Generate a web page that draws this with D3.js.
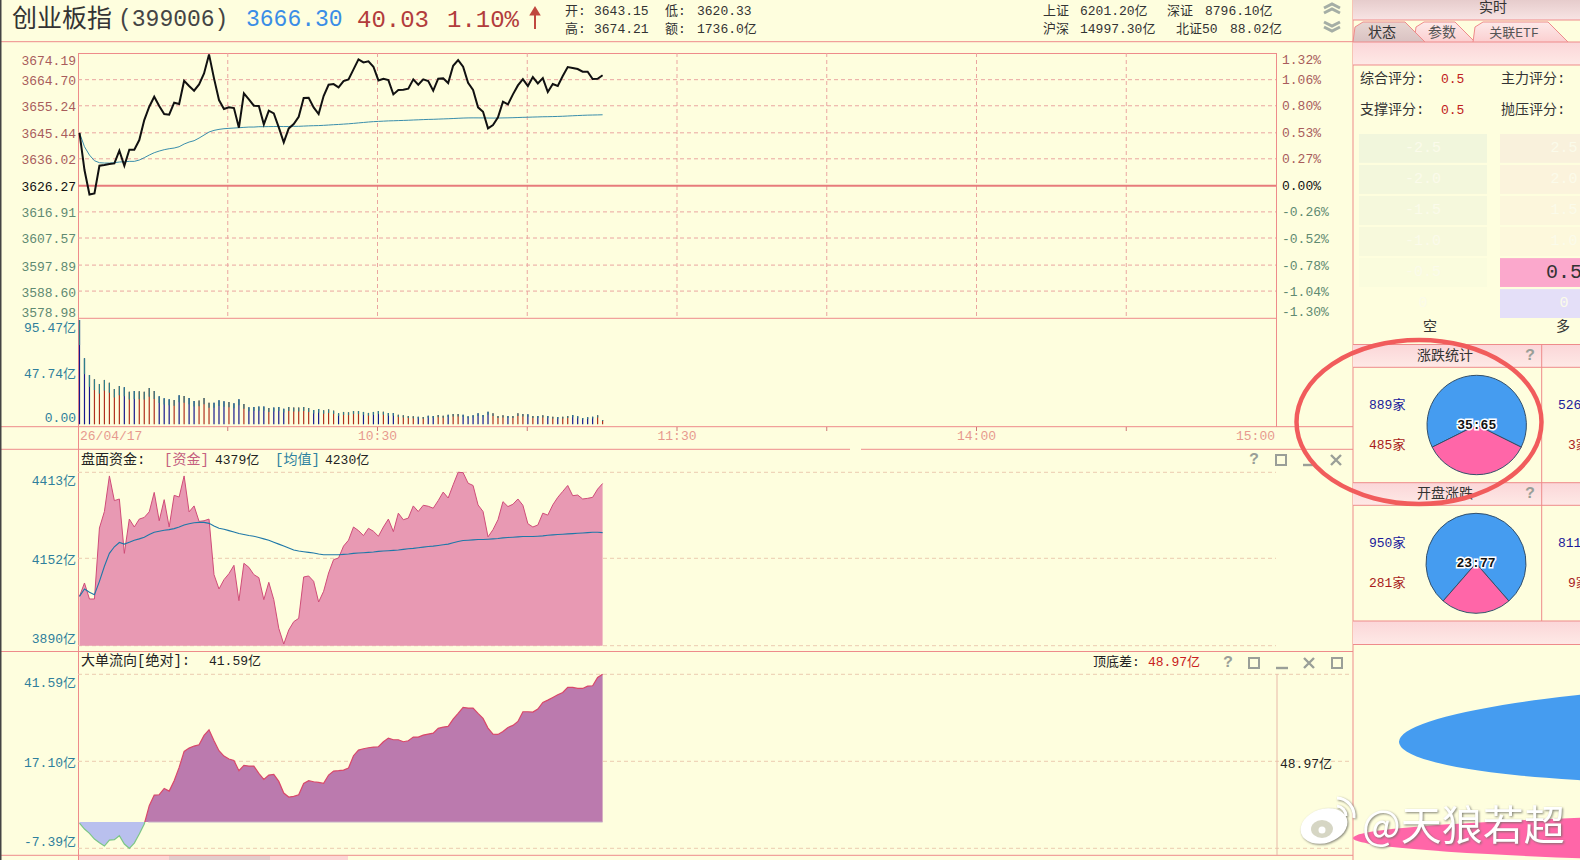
<!DOCTYPE html>
<html>
<head>
<meta charset="utf-8">
<script src="https://cdn.jsdelivr.net/npm/d3@7"></script>
<style>
body { margin: 0; background: #fefede; overflow: hidden; }
text { font-family: "Liberation Mono", "Noto Sans CJK SC", monospace; font-size: 13px; }
</style>
</head>
<body>
<svg id="chart" width="1580" height="860"></svg>
<script>
// values, one entry per minute
const priceValues = [3645.44,3631.95,3623.13,3623.49,3633.52,3633.76,3634.12,3634.36,3638.95,3633.52,3639.32,3639.32,3642.82,3650.07,3654.90,3658.52,3655.14,3652.24,3652.00,3656.35,3655.87,3664.32,3662.39,3660.70,3662.99,3666.98,3673.87,3665.17,3657.32,3654.05,3654.66,3654.42,3647.29,3659.73,3657.56,3655.26,3655.14,3648.50,3653.45,3652.48,3647.41,3641.97,3647.05,3648.62,3651.27,3658.04,3658.16,3654.66,3652.24,3658.77,3662.87,3663.11,3661.91,3664.20,3664.81,3668.43,3672.05,3670.97,3671.33,3669.40,3664.44,3665.05,3664.56,3659.37,3660.94,3661.06,3661.42,3664.81,3662.87,3664.81,3664.20,3660.70,3665.05,3665.17,3663.48,3669.76,3671.81,3669.40,3663.60,3660.94,3654.66,3653.09,3647.05,3648.26,3651.03,3656.71,3655.75,3659.37,3662.63,3664.93,3662.39,3665.65,3663.36,3665.29,3660.21,3663.11,3662.39,3666.01,3669.27,3668.91,3668.55,3667.58,3667.58,3664.93,3665.05,3666.30];
const priceAverage = [3645.44,3640.40,3637.38,3635.33,3634.61,3634.48,3634.48,3634.61,3634.85,3634.97,3635.09,3635.09,3635.57,3636.42,3637.38,3638.23,3638.83,3639.32,3639.68,3639.92,3640.40,3641.37,3642.09,3642.58,3643.54,3644.63,3645.72,3646.32,3646.69,3646.93,3647.05,3647.17,3647.29,3647.41,3647.53,3647.53,3647.65,3647.66,3647.70,3647.72,3647.75,3647.71,3647.74,3647.78,3647.80,3647.88,3647.96,3648.02,3648.06,3648.15,3648.26,3648.38,3648.47,3648.59,3648.71,3648.86,3649.03,3649.19,3649.35,3649.49,3649.58,3649.67,3649.76,3649.81,3649.87,3649.93,3650.00,3650.08,3650.15,3650.23,3650.30,3650.34,3650.41,3650.48,3650.54,3650.62,3650.71,3650.79,3650.84,3650.86,3650.85,3650.84,3650.80,3650.79,3650.80,3650.84,3650.87,3650.92,3650.98,3651.05,3651.09,3651.15,3651.20,3651.26,3651.28,3651.33,3651.38,3651.44,3651.53,3651.62,3651.70,3651.78,3651.85,3651.89,3651.93,3651.98];
const volumeValues = [95.47,60.4,45.1,41.2,36.9,40.6,38.1,32.3,35.1,33.9,29.9,30.5,30.2,29.9,33.2,30.5,25.6,23.8,22.9,22.3,26.5,25.9,24.1,21.4,21.7,24.1,19.8,19.8,22.0,21.0,20.4,19.2,22.9,18.6,15.6,15.9,16.2,16.2,14.9,15.3,15.9,14.3,15.9,15.3,15.3,15.9,14.9,13.1,14.0,12.8,13.7,12.5,10.1,11.3,11.0,12.2,12.2,11.3,10.4,11.3,12.2,11.6,10.4,10.4,8.8,8.2,7.6,7.3,7.0,6.7,7.9,7.6,8.5,7.9,8.8,9.5,9.5,8.8,7.3,8.2,10.1,8.5,11.6,10.1,7.6,8.2,7.6,7.6,10.1,9.5,9.2,7.6,7.6,8.2,7.6,7.0,6.7,7.0,7.6,8.5,7.3,5.8,6.4,7.0,8.2,4.0];
const capitalValues = [4038,4078,4030,4030,4244,4294,4402,4327,4332,4167,4271,4247,4271,4276,4293,4352,4266,4330,4247,4343,4338,4402,4293,4311,4264,4266,4271,4103,4060,4088,4106,4131,4025,4137,4125,4103,4094,4028,4080,4028,3942,3895,3937,3962,3972,4096,4099,4083,4021,4053,4108,4148,4153,4189,4207,4247,4236,4221,4243,4234,4219,4247,4271,4233,4289,4269,4274,4311,4294,4313,4310,4304,4327,4353,4335,4375,4413,4412,4380,4373,4314,4294,4217,4239,4269,4324,4309,4316,4332,4313,4257,4247,4253,4289,4283,4314,4337,4355,4373,4342,4344,4332,4334,4337,4362,4379];
const capitalAverage = [4038,4060,4050,4043,4083,4128,4167,4187,4200,4195,4201,4207,4211,4216,4224,4231,4234,4237,4239,4242,4247,4253,4257,4260,4261,4261,4258,4250,4243,4240,4236,4232,4227,4224,4221,4219,4215,4211,4207,4201,4195,4189,4183,4177,4174,4172,4170,4168,4165,4163,4163,4163,4163,4164,4165,4167,4168,4169,4170,4171,4173,4174,4175,4176,4177,4179,4181,4182,4184,4186,4188,4189,4191,4193,4195,4199,4203,4206,4207,4208,4209,4209,4210,4211,4212,4214,4215,4216,4217,4218,4218,4218,4219,4220,4222,4223,4224,4225,4226,4227,4228,4229,4230,4231,4231,4230];
const largeOrderValues = [-0.28,-1.97,-3.19,-4.78,-5.82,-6.75,-5.07,-4.97,-3.85,-6.19,-7.39,-5.91,-3.38,-0.56,4.60,7.60,7.69,9.47,8.72,11.63,15.38,19.89,20.82,21.39,21.76,24.39,25.98,22.89,20.07,18.57,17.73,17.35,14.45,15.95,15.76,15.76,13.69,12.01,13.23,13.41,11.44,8.16,7.04,7.22,7.69,10.88,11.63,11.35,11.16,10.88,13.23,14.35,14.45,14.63,15.20,18.67,20.26,20.64,20.92,21.11,21.20,22.61,23.64,23.17,23.17,22.61,22.89,23.92,23.92,24.48,24.76,25.04,26.36,26.73,26.92,28.98,30.58,32.27,32.08,32.08,30.58,29.17,26.45,24.76,24.67,25.51,26.64,27.20,28.33,31.05,31.05,30.95,31.80,33.67,34.33,35.08,35.83,36.49,37.90,37.90,37.61,37.61,38.27,38.36,40.71,41.59];

const priceTicks = [3674.19,3664.70,3655.24,3645.44,3636.02,3626.27,3616.91,3607.57,3597.89,3588.60,3578.98];
const pctTicks = ['1.32%','1.06%','0.80%','0.53%','0.27%','0.00%','-0.26%','-0.52%','-0.78%','-1.04%','-1.30%'];
const volumeTicks = [95.47,47.74,0];
const capitalTicks = [4413,4152,3890];
const largeTicks = [41.59,17.10,-7.39];
const timeMarks = [30,60,90,120,150,180,210];
const timeLabels = [[60,'10:30'],[120,'11:30'],[180,'14:00']];
const scoreLeft = ['-2.5','-2.0','-1.5','-1.0','-0.5','0'];
const scoreRight = ['2.5','2.0','1.5','1.0','0.5','0'];
const scoreLeftColors = ['#f1f6dc','#f3f7dc','#f5f8dc','#f7f9dc','#fafcdd','#fefede'];
const scoreRightColors = ['#f9f1dc','#fbf3dc','#fcf6dc','#fdf8dc','#fba8cc','#e4dff8'];
const upDownOne = [889,485];
const upDownTwo = [950,281];

const lineColor = '#ee8b8b';
const gridColor = '#eaa5a0';
const softGrid = '#eccbb0';
const axisBlue = '#2f7f9c';

const svg = d3.select('#chart');
const defs = svg.append('defs');

function gradient(id, top, bottom) {
    const g = defs.append('linearGradient').attr('id', id).attr('x1', 0).attr('x2', 0).attr('y1', 0).attr('y2', 1);
    g.append('stop').attr('offset', 0).attr('stop-color', top);
    g.append('stop').attr('offset', 1).attr('stop-color', bottom);
}
gradient('barTitle', '#e6cccc', '#f8e4e4');
gradient('barPink', '#fbd6d8', '#fee9e6');
gradient('tabGrey', '#e8d6d2', '#d9c2c2');
gradient('tabPink', '#fdeaea', '#fbcfd0');

function label(x, y, str, color, opts = {}) {
    return svg.append('text')
        .attr('x', x).attr('y', y)
        .attr('dominant-baseline', 'central')
        .attr('text-anchor', opts.anchor || 'start')
        .attr('fill', color || '#222')
        .style('font-size', (opts.size || 13) + 'px')
        .style('font-weight', opts.weight || 'normal')
        .text(str);
}
function hLine(x1, x2, y, color = lineColor, dash = null, width = 1) {
    svg.append('line').attr('x1', x1).attr('x2', x2).attr('y1', y).attr('y2', y)
        .attr('stroke', color).attr('stroke-width', width).attr('stroke-dasharray', dash);
}
function vLine(x, y1, y2, color = lineColor, dash = null) {
    svg.append('line').attr('x1', x).attr('x2', x).attr('y1', y1).attr('y2', y2)
        .attr('stroke', color).attr('stroke-dasharray', dash);
}

// Scales
const plotLeft = 78, plotRight = 1276;
const x = d3.scaleLinear().domain([0, 105]).range([79.5, 602.6]);
const timeX = d3.scaleLinear().domain([0, 240]).range([plotLeft, plotRight]);
const priceY = d3.scaleLinear().domain([3578.98, 3626.27, 3674.19]).range([318, 185.7, 53.5]);
const volumeY = d3.scaleLinear().domain([0, 95.47]).range([424.3, 320]);
const capitalY = d3.scaleLinear().domain([3890, 4152, 4413]).range([645.7, 558.3, 472.3]);
const largeY = d3.scaleLinear().domain([-7.39, 17.10, 41.59]).range([848.3, 761.3, 674.3]);

// Frame of the left side
hLine(0, 1353, 41.7);
hLine(plotLeft, plotRight, 53.5);
hLine(plotLeft, 1277, 318.3);
hLine(0, 1353, 426.7);
hLine(0, 850, 449.3);
hLine(861, 1353, 449.3);
hLine(0, 1353, 651.5);
hLine(0, 1353, 855.3);
vLine(plotLeft + 0.5, 53, 860);
vLine(1276.5, 53, 427);
svg.append('rect').attr('x', 0).attr('y', 0).attr('width', 1.5).attr('height', 860).attr('fill', '#444');

// Price grid
priceTicks.slice(1, -1).forEach(v => {
    if (v !== 3626.27) hLine(plotLeft, plotRight, priceY(v), gridColor, '4 3');
});
timeMarks.forEach(t => {
    vLine(timeX(t), 53, 318, gridColor, '4 3');
    vLine(timeX(t), 427, 431, '#c77');
});
hLine(plotLeft, plotRight, priceY(3626.27), '#e77b7b', null, 2);

// Axis helper: labels only, the frame is drawn above
function leftAxis(scale, ticks, format, color, nudge) {
    const g = svg.append('g').attr('transform', `translate(${plotLeft},0)`)
        .call(d3.axisLeft(scale).tickValues(ticks).tickSize(0).tickPadding(2).tickFormat(format));
    g.select('.domain').remove();
    g.selectAll('text')
        .attr('fill', typeof color === 'function' ? color : () => color)
        .attr('dy', (d, i) => `${0.32 + (i === 0 ? nudge[0] : i === ticks.length - 1 ? nudge[1] : 0.06)}em`)
        .style('font-size', '13px');
    g.attr('font-family', null);
}

leftAxis(priceY, priceTicks, d3.format('.2f'),
    d => d > 3626.27 ? '#a85c5c' : d < 3626.27 ? '#5f8a72' : '#111', [0.5, -0.45]);
leftAxis(volumeY, volumeTicks, d => d === 0 ? '0.00' : d.toFixed(2) + '亿', axisBlue, [0.55, -0.55]);
leftAxis(capitalY, capitalTicks, d => d + '亿', axisBlue, [0.6, -0.55]);
leftAxis(largeY, largeTicks, d => d.toFixed(2) + '亿', axisBlue, [0.6, -0.5]);

// Percent labels on the right
pctTicks.forEach((t, i) => {
    const v = priceTicks[i];
    const nudge = i === 0 ? 6.5 : i === pctTicks.length - 1 ? -6 : 1;
    label(1282, priceY(v) + nudge, t, v > 3626.27 ? '#a85c5c' : v < 3626.27 ? '#5f8a72' : '#111');
});

// Price and average lines
const line = d3.line().x((d, i) => x(i));
svg.append('path').datum(priceAverage).attr('fill', 'none').attr('stroke', '#3a8eac').attr('stroke-width', 1)
    .attr('d', line.y(d => priceY(d)));
svg.append('path').datum(priceValues).attr('fill', 'none').attr('stroke', '#111').attr('stroke-width', 2)
    .attr('d', line.y(d => priceY(d)));

// Volume bars, coloured by the minute's direction, teal at the tip
svg.append('g').selectAll('line').data(volumeValues).join('line')
    .attr('x1', (d, i) => x(i)).attr('x2', (d, i) => x(i))
    .attr('y1', volumeY(0)).attr('y2', d => volumeY(d))
    .attr('stroke', (d, i) => i > 0 && priceValues[i] > priceValues[i - 1] ? '#b0301e' : '#16188c')
    .attr('stroke-width', 1.2);
svg.append('g').selectAll('line').data(volumeValues).join('line')
    .attr('x1', (d, i) => x(i)).attr('x2', (d, i) => x(i))
    .attr('y1', d => volumeY(d * 0.76)).attr('y2', d => volumeY(d))
    .attr('stroke', '#2d7f8a')
    .attr('stroke-width', 1.2);

// Time axis labels
label(80, 436, '26/04/17', '#e79a8e');
timeLabels.forEach(([t, s]) => label(timeX(t), 436, s, '#e79a8e', { anchor: 'middle' }));
label(1275, 436, '15:00', '#e79a8e', { anchor: 'end' });

// Capital panel
capitalTicks.forEach(v => hLine(plotLeft, plotRight, capitalY(v), softGrid, '4 3'));
const capitalArea = d3.area().x((d, i) => x(i)).y0(capitalY(3890)).y1(d => capitalY(d));
svg.append('path').datum(capitalValues).attr('fill', '#e899b3').attr('d', capitalArea);
svg.append('path').datum(capitalValues).attr('fill', 'none').attr('stroke', '#cf4c78').attr('stroke-width', 1)
    .attr('d', line.y(d => capitalY(d)));
svg.append('path').datum(capitalAverage).attr('fill', 'none').attr('stroke', '#1f78a8').attr('stroke-width', 1.1)
    .attr('d', line.y(d => capitalY(d)));

// Large order panel
largeTicks.forEach(v => hLine(plotLeft, 1350, largeY(v), softGrid, '4 3'));
vLine(1277, 674, 855, '#e8b8a8');
const clipTop = defs.append('clipPath').attr('id', 'abovezero');
clipTop.append('rect').attr('x', 0).attr('y', 0).attr('width', 1580).attr('height', largeY(0));
const clipBottom = defs.append('clipPath').attr('id', 'belowzero');
clipBottom.append('rect').attr('x', 0).attr('y', largeY(0)).attr('width', 1580).attr('height', 100);
const largeArea = d3.area().x((d, i) => x(i)).y0(largeY(0)).y1(d => largeY(d));
[['abovezero', '#bb7aae', '#d9486a'], ['belowzero', '#b9c0ee', '#7cc686']].forEach(([clip, fill, stroke]) => {
    const g = svg.append('g').attr('clip-path', `url(#${clip})`);
    g.append('path').datum(largeOrderValues).attr('fill', fill).attr('d', largeArea);
    g.append('path').datum(largeOrderValues).attr('fill', 'none').attr('stroke', stroke).attr('stroke-width', 1.2)
        .attr('d', line.y(d => largeY(d)));
});
hLine(x(13.8), x(105), largeY(0), '#c9b4c8');

// Bottom tabs
svg.append('rect').attr('x', 79).attr('y', 856).attr('width', 90).attr('height', 4).attr('fill', '#fcd6d6');
svg.append('rect').attr('x', 169).attr('y', 856).attr('width', 101).attr('height', 4).attr('fill', '#e2cccc');
svg.append('rect').attr('x', 270).attr('y', 856).attr('width', 78).attr('height', 4).attr('fill', '#fcd6d6');

// Header
label(12, 20, '创业板指', '#333', { size: 25 });
label(118, 20, '(399006)', '#444', { size: 23 });
label(246, 20, '3666.30', '#3a8de6', { size: 23 });
label(357, 20, '40.03', '#b23c3c', { size: 24 });
label(447, 20, '1.10%', '#b23c3c', { size: 24 });
svg.append('path').attr('d', 'M535,11V29M531,14.5L535,8L539,14.5Z')
    .attr('fill', '#c0483f').attr('stroke', '#c0483f').attr('stroke-width', 2);
label(565, 11, '开:', '#333');
label(594, 11, '3643.15', '#333');
label(665, 11, '低:', '#333');
label(697, 11, '3620.33', '#333');
label(565, 29, '高:', '#333');
label(594, 29, '3674.21', '#333');
label(665, 29, '额:', '#333');
label(697, 29, '1736.0亿', '#333');
label(1043, 11, '上证', '#333');
label(1080, 11, '6201.20亿', '#333');
label(1167, 11, '深证', '#333');
label(1205, 11, '8796.10亿', '#333');
label(1043, 29, '沪深', '#333');
label(1080, 29, '14997.30亿', '#333');
label(1176, 29, '北证50', '#333');
label(1230, 29, '88.02亿', '#333');

// Double chevrons
[[8, -1], [26, 1]].forEach(([y, dir]) => {
    [0, 5].forEach(off => {
        svg.append('path')
            .attr('d', d3.line()([[1324, y + off - 2 * dir - 2], [1332, y + off + 2 * dir - 2], [1340, y + off - 2 * dir - 2]]))
            .attr('fill', 'none').attr('stroke', '#a5aea5').attr('stroke-width', 3);
    });
});

// Panel headers
label(81, 460, '盘面资金:', '#222', { size: 14 });
label(164, 460, '[资金]', '#c4607f', { size: 14 });
label(215, 460, '4379亿', '#222');
label(275, 460, '[均值]', '#2d82a0', { size: 14 });
label(325, 460, '4230亿', '#222');
label(81, 661, '大单流向[绝对]:', '#222', { size: 14 });
label(209, 661, '41.59亿', '#222');
label(1093, 662, '顶底差:', '#222');
label(1148, 662, '48.97亿', '#c82020');
label(1280, 764, '48.97亿', '#222');

// Window icons
function icons(y, xs, withPop) {
    const c = '#9a9f98';
    label(xs[0], y, '?', c, { size: 16, anchor: 'middle', weight: 'bold' });
    svg.append('rect').attr('x', xs[1] - 5).attr('y', y - 5).attr('width', 10).attr('height', 10)
        .attr('fill', 'none').attr('stroke', c).attr('stroke-width', 2);
    hLine(xs[2] - 6, xs[2] + 6, y + 5, c, null, 2.4);
    svg.append('path').attr('d', `M${xs[3] - 5},${y - 5}L${xs[3] + 5},${y + 5}M${xs[3] + 5},${y - 5}L${xs[3] - 5},${y + 5}`)
        .attr('stroke', c).attr('stroke-width', 2.4);
    if (withPop) {
        svg.append('rect').attr('x', xs[4] - 5).attr('y', y - 5).attr('width', 10).attr('height', 10)
            .attr('fill', 'none').attr('stroke', c).attr('stroke-width', 2);
    }
}
icons(460, [1254, 1281, 1309, 1336], false);
icons(663, [1228, 1254, 1282, 1309, 1337], true);

// Right hand panel
vLine(1353, 0, 860);
svg.append('rect').attr('x', 1353).attr('y', 0).attr('width', 227).attr('height', 20).attr('fill', 'url(#barTitle)');
label(1493, 8, '实时', '#333', { anchor: 'middle', size: 14 });
hLine(1353, 1580, 20);
const tabShape = d3.line();
[[1414, 1475, 'url(#tabPink)'], [1473, 1568, 'url(#tabPink)'], [1353, 1425, 'url(#tabGrey)']].forEach(([a, b, fill]) => {
    svg.append('path')
        .attr('d', tabShape([[a, 42], [a + 2, 27], [a + 10, 22], [b - 20, 22], [b, 42]]))
        .attr('fill', fill).attr('stroke', lineColor);
});
label(1382, 33, '状态', '#333', { anchor: 'middle', size: 14 });
label(1442, 33, '参数', '#555', { anchor: 'middle', size: 14 });
label(1514, 33, '关联ETF', '#555', { anchor: 'middle', size: 13 });
svg.append('rect').attr('x', 1353).attr('y', 42).attr('width', 227).attr('height', 23).attr('fill', 'url(#barPink)');
hLine(1353, 1580, 42);
hLine(1353, 1580, 65);

label(1360, 79, '综合评分:', '#333', { size: 14 });
label(1441, 79, '0.5', '#c02020');
label(1501, 79, '主力评分:', '#333', { size: 14 });
label(1360, 110, '支撑评分:', '#333', { size: 14 });
label(1441, 110, '0.5', '#c02020');
label(1501, 110, '抛压评分:', '#333', { size: 14 });

// Score ladder
const ladderY = d3.scaleBand().domain(d3.range(6)).range([134, 318]).paddingInner(0.07);
scoreLeft.forEach((s, i) => {
    svg.append('rect').attr('x', 1359).attr('y', ladderY(i)).attr('width', 128).attr('height', ladderY.bandwidth()).attr('fill', scoreLeftColors[i]);
    label(1423, ladderY(i) + ladderY.bandwidth() / 2, s, '#fbfbea', { anchor: 'middle', size: 15 });
});
scoreRight.forEach((s, i) => {
    svg.append('rect').attr('x', 1500).attr('y', ladderY(i)).attr('width', 80).attr('height', ladderY.bandwidth()).attr('fill', scoreRightColors[i]);
    const active = s === '0.5';
    label(1564, ladderY(i) + ladderY.bandwidth() / 2, s, active ? '#333' : '#fbfbea', { anchor: 'middle', size: active ? 20 : 15 });
});
label(1430, 327, '空', '#333', { anchor: 'middle', size: 14 });
label(1563, 327, '多', '#333', { anchor: 'middle', size: 14 });

// Advance / decline sections
[[344.5, 367.3, '涨跌统计'], [482.7, 505.3, '开盘涨跌']].forEach(([top, bottom, title]) => {
    svg.append('rect').attr('x', 1353).attr('y', top).attr('width', 227).attr('height', bottom - top).attr('fill', 'url(#barPink)');
    hLine(1353, 1580, top);
    hLine(1353, 1580, bottom);
    label(1445, (top + bottom) / 2, title, '#333', { anchor: 'middle', size: 14 });
    label(1530, (top + bottom) / 2, '?', '#9a9f98', { anchor: 'middle', size: 16, weight: 'bold' });
});
vLine(1541.7, 344, 621);
svg.append('rect').attr('x', 1353).attr('y', 621).attr('width', 227).attr('height', 23.5).attr('fill', 'url(#barPink)');
hLine(1353, 1580, 621);
hLine(1353, 1580, 644.5);

label(1369, 405, '889家', '#1a1a9a');
label(1369, 445, '485家', '#a81c1c');
label(1369, 543, '950家', '#1a1a9a');
label(1369, 583, '281家', '#a81c1c');
label(1558, 405, '526', '#1a1a9a');
label(1568, 445, '3家', '#a81c1c');
label(1558, 543, '811', '#1a1a9a');
label(1568, 583, '9家', '#a81c1c');

function drawPie(cx, cy, radius, counts, caption) {
    // pink slice is centred on the bottom of the circle
    const share = counts[1] / d3.sum(counts) * Math.PI;
    const pie = d3.pie().sort(null).value(d => d).startAngle(Math.PI + share).endAngle(3 * Math.PI + share);
    const arc = d3.arc().innerRadius(0).outerRadius(radius);
    const g = svg.append('g').attr('transform', `translate(${cx},${cy})`);
    g.selectAll('path').data(pie(counts)).join('path')
        .attr('d', arc)
        .attr('fill', (d, i) => i === 0 ? '#459cf0' : '#ff66a8')
        .attr('stroke', '#34506a').attr('stroke-width', 1);
    g.append('text').attr('text-anchor', 'middle').attr('dominant-baseline', 'central')
        .attr('fill', '#111').attr('stroke', '#fff').attr('stroke-width', 3).attr('paint-order', 'stroke')
        .style('font-size', '13px').style('font-weight', 'bold').text(caption);
}
drawPie(1476.7, 425, 49.7, upDownOne, '35:65');
drawPie(1476, 563.3, 50, upDownTwo, '23:77');

// Stretched pies at the bottom right, cut by the window
svg.append('ellipse').attr('cx', 1799).attr('cy', 742).attr('rx', 400).attr('ry', 51)
    .attr('transform', 'rotate(-1.4 1399 742)').attr('fill', '#459cf0');
svg.append('ellipse').attr('cx', 2153).attr('cy', 838).attr('rx', 800).attr('ry', 29)
    .attr('fill', '#ff66a8');

// Hand drawn circle
svg.append('ellipse').attr('cx', 1419).attr('cy', 422).attr('rx', 122.5).attr('ry', 82)
    .attr('fill', 'none').attr('stroke', '#f15c5c').attr('stroke-width', 4.5);

// Watermark
const mark = svg.append('g').style('filter', 'drop-shadow(1px 1px 1px rgba(110,110,100,0.85))');
mark.append('ellipse').attr('cx', 1324).attr('cy', 826).attr('rx', 24).attr('ry', 17).attr('transform', 'rotate(-18 1324 826)').attr('fill', '#fff');
mark.append('ellipse').attr('cx', 1322).attr('cy', 829).attr('rx', 11).attr('ry', 9).attr('fill', '#d6d6c4');
mark.append('circle').attr('cx', 1322).attr('cy', 830).attr('r', 3.5).attr('fill', '#fff');
mark.append('path').attr('d', 'M1337,798 A18,18 0 0 1 1354,818').attr('fill', 'none').attr('stroke', '#fff').attr('stroke-width', 3);
mark.append('path').attr('d', 'M1337,806 A10,10 0 0 1 1346,816').attr('fill', 'none').attr('stroke', '#fff').attr('stroke-width', 3);
mark.append('text').attr('x', 1362).attr('y', 822).attr('dominant-baseline', 'central')
    .attr('fill', '#fff').style('font-family', '"Noto Sans CJK SC"').style('font-size', '41px').text('@天狼若超');
</script>
</body>
</html>
